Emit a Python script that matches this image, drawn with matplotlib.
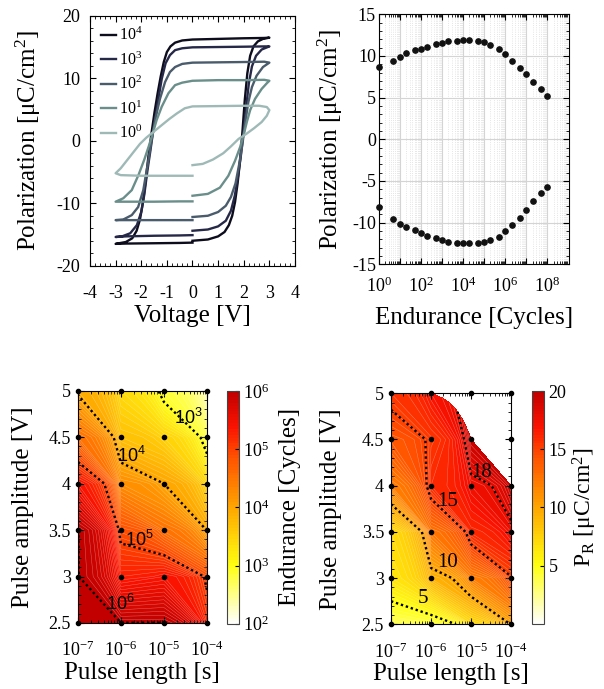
import matplotlib
matplotlib.use("Agg")
import matplotlib.pyplot as plt
import numpy as np
from matplotlib.colors import LinearSegmentedColormap
from matplotlib.ticker import MultipleLocator, LogLocator, NullFormatter

plt.rcParams['font.family'] = ['Liberation Serif', 'DejaVu Serif']
plt.rcParams['mathtext.fontset'] = 'custom'
plt.rcParams['mathtext.rm'] = 'Liberation Serif'
plt.rcParams['mathtext.it'] = 'Liberation Serif:italic'
plt.rcParams['mathtext.bf'] = 'Liberation Serif:bold'
plt.rcParams['xtick.direction'] = 'in'
plt.rcParams['ytick.direction'] = 'in'
plt.rcParams['xtick.top'] = True
plt.rcParams['ytick.right'] = True
plt.rcParams['axes.unicode_minus'] = False

# ---- P-V loops (voltage, polarization) ----
v_1e4 = [0.0, 0.6, 1.0, 1.25, 1.42, 1.55, 1.66, 1.76, 1.86, 1.95, 2.04, 2.14, 2.25, 2.38, 2.55, 2.75, 3.0,
         2.8, 2.0, 1.0, 0.0, -0.4, -0.68, -0.86, -1.0, -1.12, -1.24, -1.36, -1.48, -1.6, -1.72, -1.83,
         -1.94, -2.05, -2.18, -2.35, -2.6, -3.0, -2.6, -1.5, -0.5, 0.0]
p_1e4 = [-16.0, -15.8, -15.3, -14.6, -13.5, -12.0, -9.8, -6.8, -3.0, 1.5, 6.5, 10.8, 13.6, 15.1, 15.9, 16.3, 16.5,
         16.45, 16.4, 16.3, 16.2, 16.05, 15.7, 15.1, 14.2, 12.6, 10.3, 7.6, 4.6, 1.2, -2.5, -6.5,
         -10.0, -12.6, -14.4, -15.6, -16.2, -16.5, -16.45, -16.4, -16.35, -16.3]

v_1e3 = [0.0, 0.6, 1.0, 1.3, 1.5, 1.65, 1.78, 1.9, 2.0, 2.1, 2.2, 2.32, 2.48, 2.7, 3.0,
         2.8, 2.0, 1.0, 0.0, -0.4, -0.68, -0.88, -1.05, -1.2, -1.36, -1.53, -1.64, -1.76, -1.88, -2.0,
         -2.17, -2.43, -2.75, -3.0, -2.6, -1.5, -0.5, 0.0]
p_1e3 = [-14.4, -14.2, -13.7, -12.8, -11.2, -8.8, -5.6, -2.0, 1.8, 5.6, 9.2, 11.9, 13.6, 14.6, 15.1,
         15.1, 15.05, 15.0, 14.95, 14.8, 14.5, 13.7, 12.4, 9.9, 6.0, 1.7, -1.5, -4.8, -8.6, -11.4,
         -13.5, -14.8, -15.3, -15.4, -15.3, -15.2, -15.15, -15.1]

v_1e2 = [0.0, 0.6, 1.0, 1.3, 1.5, 1.68, 1.82, 1.95, 2.06, 2.18, 2.32, 2.5, 2.75, 3.0,
         2.8, 2.0, 1.0, 0.0, -0.4, -0.68, -0.88, -1.07, -1.27, -1.46, -1.6, -1.72, -1.92, -2.12,
         -2.37, -2.7, -3.0, -2.6, -1.5, -0.5, 0.0]
p_1e2 = [-12.2, -12.0, -11.4, -10.4, -9.0, -6.8, -3.8, -0.5, 3.0, 6.2, 8.6, 10.4, 11.8, 12.5,
         12.65, 12.6, 12.55, 12.5, 12.3, 11.8, 11.0, 9.4, 6.7, 3.3, 0.0, -3.1, -7.9, -10.6,
         -11.9, -12.6, -12.7, -12.7, -12.7, -12.7, -12.7]

v_1e1 = [0.0, 0.6, 1.07, 1.4, 1.66, 1.86, 2.0, 2.12, 2.25, 2.44, 2.7, 2.9, 3.0,
         2.8, 2.0, 1.0, 0.0, -0.4, -0.68, -0.94, -1.2, -1.4, -1.55, -1.7, -1.88, -2.1, -2.37,
         -2.7, -3.0, -2.6, -1.5, -0.5, 0.0]
p_1e1 = [-8.8, -8.5, -7.5, -5.6, -3.2, -1.0, 1.0, 3.0, 4.9, 6.7, 8.3, 9.2, 9.6,
         9.75, 9.7, 9.7, 9.6, 9.3, 8.9, 7.6, 5.45, 3.3, 1.2, -0.8, -3.0, -5.4, -7.9,
         -9.2, -9.75, -9.75, -9.75, -9.7, -9.7]

v_1e0 = [0.0, 0.4, 0.8, 1.2, 1.5, 1.8, 2.1, 2.4, 2.7, 2.9, 3.0,
         2.9, 2.6, 2.0, 1.0, 0.0, -0.3, -0.6, -0.9, -1.2, -1.5, -1.8, -2.05, -2.3, -2.55, -2.8, -3.0,
         -2.8, -2.0, -1.0, 0.0]
p_1e0 = [-3.9, -3.7, -3.0, -2.0, -0.9, 0.3, 1.1, 2.0, 3.0, 4.0, 4.9,
         5.4, 5.6, 5.6, 5.55, 5.5, 5.2, 4.4, 3.5, 2.5, 1.5, 0.5, -0.5, -1.8, -3.1, -4.4, -5.2,
         -5.5, -5.6, -5.6, -5.6]

loop_labels = [r'$10^4$', r'$10^3$', r'$10^2$', r'$10^1$', r'$10^0$']
loop_colors = ['#0c0c1c', '#262848', '#4a5b6c', '#6a8e8a', '#9fbab6']

# ---- remanent polarization vs cycles ----
cycles = [1, 5, 10, 20, 50, 100, 200, 500, 1e3, 2e3, 5e3, 1e4, 2e4, 5e4,
          1e5, 2e5, 5e5, 1e6, 2e6, 5e6, 1e7, 2e7, 5e7, 1e8]
p_pos = [8.72, 9.36, 9.84, 10.36, 10.68, 10.84, 11.12, 11.4, 11.6, 11.76, 11.84, 11.88,
         11.88, 11.8, 11.64, 11.32, 10.84, 10.2, 9.4, 8.52, 7.8, 6.88, 6.0, 5.2]
p_neg = [-8.08, -9.56, -10.12, -10.56, -10.92, -11.24, -11.6, -11.88, -12.08, -12.28, -12.4, -12.48,
         -12.48, -12.48, -12.36, -12.04, -11.68, -11.0, -10.32, -9.4, -8.48, -7.44, -6.48, -5.68]

# ---- pulse maps ----
pulse_length = [1e-7, 1e-6, 1e-5, 1e-4]
pulse_amp = [2.5, 3.0, 3.5, 4.0, 4.5, 5.0]
# log10(endurance cycles), rows = amplitude, cols = pulse length
log_endurance = [
    [6.0, 6.0, 6.0, 5.2],
    [6.0, 5.3, 5.4, 4.92],
    [6.0, 4.88, 4.53, 3.98],
    [5.4, 4.25, 4.0, 3.45],
    [4.55, 3.7, 3.5, 2.75],
    [3.95, 3.4, 2.84, 2.2],
]
# remanent polarization P_R [uC/cm^2]
p_r = [
    [3.5, 3.9, 7.0, 10.1],
    [6.5, 9.3, 12.0, 14.9],
    [7.0, 12.5, 16.1, 17.5],
    [12.0, 16.0, 17.5, 19.5],
    [14.1, 15.4, 19.5, np.nan],
    [15.5, 17.0, np.nan, np.nan],
]

cmap = LinearSegmentedColormap.from_list(
    'wyr', [(0, '#ffffff'), (0.25, '#ffff10'), (0.5, '#ffa600'),
            (0.72, '#ff5000'), (0.85, '#fa1200'), (1, '#c00000')])

fig = plt.figure(figsize=(6.04, 6.89), dpi=100)

LAB = 18
TCK = 13

# ---------------- top left: P-V loops ----------------
ax1 = fig.add_axes([0.149, 0.6143, 0.3394, 0.3628])
loops = [(v_1e4, p_1e4), (v_1e3, p_1e3), (v_1e2, p_1e2), (v_1e1, p_1e1), (v_1e0, p_1e0)]
for (v, p), lab, col in zip(loops, loop_labels, loop_colors):
    ax1.plot(v, p, color=col, lw=1.7, label=lab, solid_joinstyle='round')
ax1.set_xlim(-4, 4)
ax1.set_ylim(-20, 20)
ax1.xaxis.set_major_locator(MultipleLocator(1))
ax1.xaxis.set_minor_locator(MultipleLocator(0.2))
ax1.yaxis.set_major_locator(MultipleLocator(10))
ax1.yaxis.set_minor_locator(MultipleLocator(2))
ax1.tick_params(labelsize=TCK, length=4)
ax1.tick_params(axis='x', pad=14)
ax1.tick_params(axis='y', pad=7)
ax1.tick_params(which='minor', length=2.5)
ax1.set_xlabel('Voltage [V]', fontsize=LAB, labelpad=2)
ax1.set_ylabel('Polarization [μC/cm$^2$]', fontsize=LAB, labelpad=10)
ax1.legend(loc='upper left', frameon=False, fontsize=11.5, handlelength=0.9,
           handletextpad=0.2, labelspacing=0.45, borderaxespad=0.3)

# ---------------- top right: endurance ----------------
ax2 = fig.add_axes([0.627, 0.6164, 0.3156, 0.3628])
ax2.plot(cycles, p_pos, 'o', color='#111111', ms=3.8, clip_on=False, zorder=3)
ax2.plot(cycles, p_neg, 'o', color='#111111', ms=3.8, clip_on=False, zorder=3)
ax2.set_xscale('log')
ax2.set_xlim(1, 1.1e9)
ax2.set_ylim(-15, 15)
ax2.set_xticks([10.0 ** k for k in range(9)])
ax2.set_xticklabels([r'$10^{%d}$' % k if k % 2 == 0 else '' for k in range(9)])
ax2.xaxis.set_minor_locator(LogLocator(base=10, subs=np.arange(2, 10), numticks=20))
ax2.xaxis.set_minor_formatter(NullFormatter())
ax2.yaxis.set_major_locator(MultipleLocator(5))
ax2.yaxis.set_minor_locator(MultipleLocator(1))
ax2.grid(which='major', color='#d4d4d4', lw=0.8)
ax2.grid(which='minor', axis='x', color='#dddddd', lw=0.6, ls=':')
ax2.set_axisbelow(True)
ax2.tick_params(labelsize=TCK, length=4)
ax2.tick_params(axis='x', pad=9)
ax2.tick_params(axis='y', pad=2)
ax2.tick_params(which='minor', length=2.5)
ax2.set_xlabel('Endurance [Cycles]', fontsize=LAB, labelpad=8)
ax2.set_ylabel('Polarization [μC/cm$^2$]', fontsize=LAB, labelpad=5)

# ---------------- bottom maps ----------------
X, Y = np.meshgrid(pulse_length, pulse_amp)


def style_map(ax, ypad):
    ax.set_xscale('log')
    ax.set_xlim(1e-7, 1e-4)
    ax.set_ylim(2.5, 5)
    ax.set_xticks(pulse_length)
    ax.xaxis.set_minor_locator(LogLocator(base=10, subs=np.arange(2, 10), numticks=20))
    ax.xaxis.set_minor_formatter(NullFormatter())
    ax.yaxis.set_minor_locator(MultipleLocator(0.1))
    ax.set_yticks(pulse_amp)
    ax.set_yticklabels(['2.5', '3', '3.5', '4', '4.5', '5'])
    ax.tick_params(labelsize=TCK, length=4)
    ax.tick_params(axis='x', pad=13)
    ax.tick_params(axis='y', pad=5)
    ax.tick_params(which='minor', length=2.5)
    ax.plot(X.ravel(), Y.ravel(), 'o', color='black', ms=3.0, clip_on=False, zorder=5)
    ax.set_xlabel('Pulse length [s]', fontsize=LAB, labelpad=1)
    ax.set_ylabel('Pulse amplitude [V]', fontsize=LAB, labelpad=ypad)
    for s in ax.spines.values():
        s.set_zorder(6)


# endurance map
ax3 = fig.add_axes([0.1286, 0.0958, 0.2141, 0.3372])
Ze = np.array(log_endurance)
lev_e = np.linspace(2, 6, 81)
cf3 = ax3.contourf(X, Y, Ze, levels=lev_e, cmap=cmap)
ax3.contour(X, Y, Ze, levels=lev_e, colors='white', linewidths=0.3, alpha=0.45)
ax3.contour(X, Y, Ze, levels=[3, 4, 5, 5.995], colors='black',
            linewidths=1.7, linestyles=[(0, (1, 1.2))])
for x, y, t in [(10 ** -4.43, 4.71, r'$\mathregular{10^3}$'), (10 ** -5.75, 4.3, r'$\mathregular{10^4}$'),
                (10 ** -5.56, 3.39, r'$\mathregular{10^5}$'), (10 ** -6.02, 2.7, r'$\mathregular{10^6}$')]:
    ax3.text(x, y, t, fontsize=13, family=['Liberation Sans', 'DejaVu Sans'],
             ha='center', va='center', zorder=7)
style_map(ax3, 10)
cax3 = fig.add_axes([0.3753, 0.0947, 0.0209, 0.3377])
cb3 = fig.colorbar(cf3, cax=cax3, ticks=[2, 3, 4, 5, 6])
cb3.ax.set_yticklabels([r'$10^{%d}$' % k for k in range(2, 7)])
cb3.ax.tick_params(labelsize=TCK, length=3, direction='in', pad=3)
cb3.outline.set_edgecolor('#444444')
cb3.set_label('Endurance [Cycles]', fontsize=LAB, labelpad=7)

# remanent polarization map
ax4 = fig.add_axes([0.6474, 0.0939, 0.1987, 0.3353])
Zp = np.ma.masked_invalid(np.array(p_r))
lev_p = np.linspace(0, 20, 81)
cf4 = ax4.contourf(X, Y, Zp, levels=lev_p, cmap=cmap)
ax4.contour(X, Y, Zp, levels=lev_p, colors='white', linewidths=0.3, alpha=0.45)
ax4.contour(X, Y, Zp, levels=[5, 10, 15, 18], colors='black',
            linewidths=1.7, linestyles=[(0, (1, 1.2))])
for x, y, t in [(10 ** -6.19, 2.78, '5'), (10 ** -5.58, 3.17, '10'),
                (10 ** -5.58, 3.83, '15'), (10 ** -4.73, 4.14, '18')]:
    ax4.text(x, y, t, fontsize=15, ha='center', va='center', zorder=7)
style_map(ax4, 14)
cax4 = fig.add_axes([0.8803, 0.0947, 0.0209, 0.3377])
cb4 = fig.colorbar(cf4, cax=cax4, ticks=[5, 10, 15, 20])
cb4.ax.tick_params(labelsize=TCK, length=3, direction='in', pad=3)
cb4.outline.set_edgecolor('#444444')
cb4.set_label(r'P$_\mathregular{R}$ [μC/cm$^2$]', fontsize=17, labelpad=3)

fig.savefig('out.png', dpi=100)
